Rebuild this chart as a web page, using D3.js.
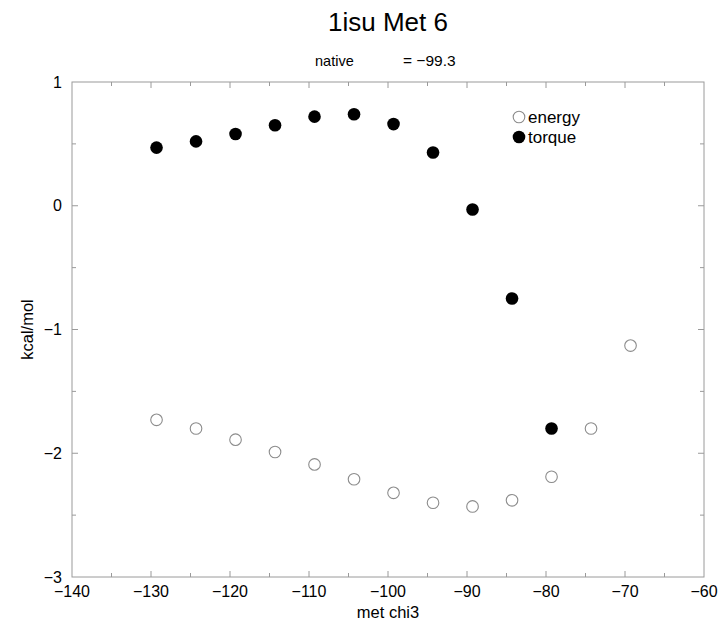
<!DOCTYPE html>
<html>
<head>
<meta charset="utf-8">
<script src="https://cdn.jsdelivr.net/npm/d3@7"></script>
<style>
  html, body { margin: 0; padding: 0; background: #fff; }
  text { font-family: "Liberation Sans", Arial, Helvetica, sans-serif; fill: #000; }
</style>
</head>
<body>
<svg id="chart" width="723" height="627"></svg>
<script>
// Met 6 chi3 scan around the native angle (-99.3)
const chi3 = [-129.3, -124.3, -119.3, -114.3, -109.3, -104.3, -99.3, -94.3, -89.3, -84.3, -79.3, -74.3, -69.3];
const energy = [-1.73, -1.80, -1.89, -1.99, -2.09, -2.21, -2.32, -2.40, -2.43, -2.38, -2.19, -1.80, -1.13];
const torque = [0.47, 0.52, 0.58, 0.65, 0.72, 0.74, 0.66, 0.43, -0.03, -0.75, -1.80];
const xTicks = [-140, -130, -120, -110, -100, -90, -80, -70, -60];
const yTicks = [1, 0, -1, -2, -3];

const svg = d3.select("#chart");
const plotL = 72, plotR = 704, plotT = 82, plotB = 577;

const x = d3.scaleLinear().domain([-140, -60]).range([plotL, plotR]);
const y = d3.scaleLinear().domain([-3, 1]).range([plotB, plotT]);

const frameColor = "#9a9a9a";
const minorX = d3.range(-135, -60, 10);
const minorY = [0.5, -0.5, -1.5, -2.5];

// frame
svg.append("rect")
  .attr("x", plotL).attr("y", plotT)
  .attr("width", plotR - plotL).attr("height", plotB - plotT)
  .attr("fill", "none").attr("stroke", frameColor).attr("stroke-width", 1);

// inward ticks on all four sides
const tickG = svg.append("g").attr("stroke", frameColor).attr("stroke-width", 1);
function xTick(v, len) {
  tickG.append("line").attr("x1", x(v)).attr("x2", x(v)).attr("y1", plotB).attr("y2", plotB - len);
  tickG.append("line").attr("x1", x(v)).attr("x2", x(v)).attr("y1", plotT).attr("y2", plotT + len);
}
function yTick(v, len) {
  tickG.append("line").attr("x1", plotL).attr("x2", plotL + len).attr("y1", y(v)).attr("y2", y(v));
  tickG.append("line").attr("x1", plotR).attr("x2", plotR - len).attr("y1", y(v)).attr("y2", y(v));
}
xTicks.slice(1, -1).forEach(v => xTick(v, 6));
minorX.forEach(v => xTick(v, 4));
yTicks.slice(1, -1).forEach(v => yTick(v, 6));
minorY.forEach(v => yTick(v, 4));

const fmt = v => v < 0 ? "\u2212" + Math.abs(v) : String(v);

// tick labels
svg.append("g").selectAll("text").data(xTicks).join("text")
  .attr("x", d => x(d)).attr("y", plotB + 20)
  .attr("text-anchor", "middle").attr("font-size", 16)
  .text(fmt);
svg.append("g").selectAll("text").data(yTicks).join("text")
  .attr("x", plotL - 10).attr("y", d => y(d) + 5.5)
  .attr("text-anchor", "end").attr("font-size", 16)
  .text(fmt);

// titles
svg.append("text").attr("x", (plotL + plotR) / 2).attr("y", 31)
  .attr("text-anchor", "middle").attr("font-size", 26).text("1isu Met 6");
svg.append("text").attr("x", 315).attr("y", 66).attr("font-size", 14.5).text("native");
svg.append("text").attr("x", 403).attr("y", 66).attr("font-size", 15.5).text("= \u221299.3");
svg.append("text").attr("x", (plotL + plotR) / 2).attr("y", 618)
  .attr("text-anchor", "middle").attr("font-size", 16.5).text("met chi3");
svg.append("text").attr("transform", `translate(33,${(plotT + plotB) / 2}) rotate(-90)`)
  .attr("text-anchor", "middle").attr("font-size", 16.5).text("kcal/mol");

// energy: open circles
svg.append("g").selectAll("circle").data(energy).join("circle")
  .attr("cx", (d, i) => x(chi3[i])).attr("cy", d => y(d)).attr("r", 5.8)
  .attr("fill", "#fff").attr("stroke", "#8c8c8c").attr("stroke-width", 1.1);

// torque: filled circles
svg.append("g").selectAll("circle").data(torque).join("circle")
  .attr("cx", (d, i) => x(chi3[i])).attr("cy", d => y(d)).attr("r", 6.3)
  .attr("fill", "#000");

// legend
const lg = svg.append("g");
lg.append("circle").attr("cx", 519).attr("cy", 117).attr("r", 5.8)
  .attr("fill", "#fff").attr("stroke", "#8c8c8c").attr("stroke-width", 1.1);
lg.append("text").attr("x", 528).attr("y", 123).attr("font-size", 17).text("energy");
lg.append("circle").attr("cx", 519).attr("cy", 137).attr("r", 6.3).attr("fill", "#000");
lg.append("text").attr("x", 528).attr("y", 143).attr("font-size", 17).text("torque");
</script>
</body>
</html>
